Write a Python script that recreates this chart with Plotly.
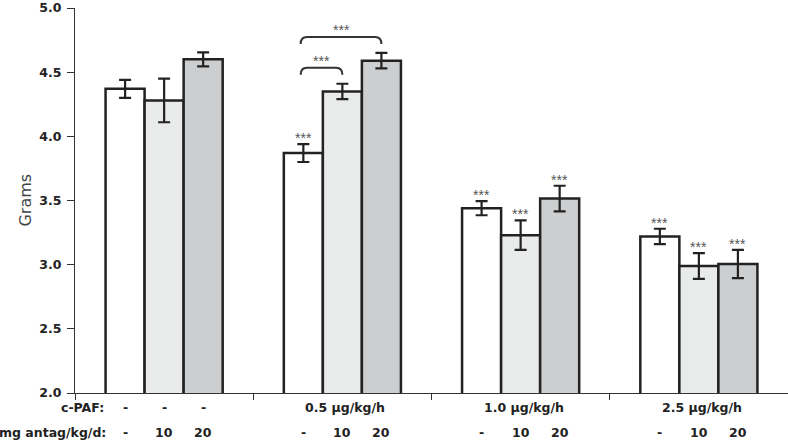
import plotly.graph_objects as go

# ---- data ----
cpaf_labels = ["-", "0.5 µg/kg/h", "1.0 µg/kg/h", "2.5 µg/kg/h"]
antag_labels = ["-", "10", "20"]

vals_0 = [4.37, 3.87, 3.44, 3.22]
err_0 = [0.07, 0.07, 0.055, 0.06]
vals_10 = [4.28, 4.35, 3.23, 2.99]
err_10 = [0.17, 0.06, 0.115, 0.10]
vals_20 = [4.60, 4.59, 3.515, 3.005]
err_20 = [0.055, 0.06, 0.10, 0.11]

sig_0 = [False, True, True, True]
sig_10 = [False, False, True, True]
sig_20 = [False, False, True, True]

# brackets: (group index, bar a, bar b)
brackets = [(1, 0, 1), (1, 0, 2)]

y_ticks = [2.0, 2.5, 3.0, 3.5, 4.0, 4.5, 5.0]

colors = ["#ffffff", "#e9eaea", "#cdcecf"]
series_vals = [vals_0, vals_10, vals_20]
series_err = [err_0, err_10, err_20]
series_sig = [sig_0, sig_10, sig_20]

bw = 0.219
offsets = [-bw, 0.0, bw]
groups = list(range(len(cpaf_labels)))
INK = "#222222"
FONT = "DejaVu Sans, Verdana, sans-serif"
STAR_FONT = dict(family="Liberation Sans, Arial, sans-serif", size=14, color="#555555")

fig = go.Figure()
for k in range(3):
    fig.add_trace(go.Bar(
        x=[g + offsets[k] for g in groups],
        y=series_vals[k],
        base=0,
        width=bw,
        marker=dict(color=colors[k], line=dict(color=INK, width=2.5)),
        error_y=dict(type="data", array=series_err[k], visible=True,
                     color=INK, thickness=2.2, width=6),
        showlegend=False,
        hoverinfo="skip",
    ))

annotations = []
shapes = []

# significance stars above bars
for k in range(3):
    for g in groups:
        if series_sig[k][g]:
            top = series_vals[k][g] + series_err[k][g]
            annotations.append(dict(
                x=g + offsets[k], y=top, xref="x", yref="y",
                text="***", showarrow=False, yanchor="middle", yshift=6,
                font=STAR_FONT))

# brackets
for (g, a, b) in brackets:
    tops = [series_vals[k][g] + series_err[k][g] for k in range(min(a, b), max(a, b) + 1)]
    ytop = max(tops) + 0.125
    yend = ytop - 0.055
    x0 = g + offsets[a] - 0.015
    x1 = g + offsets[b]
    dx = 0.035
    path = (f"M {x0},{yend} Q {x0},{ytop} {x0 + dx},{ytop} "
            f"L {x1 - dx},{ytop} Q {x1},{ytop} {x1},{yend}")
    shapes.append(dict(type="path", path=path, xref="x", yref="y",
                       line=dict(color="#333333", width=2)))
    annotations.append(dict(
        x=(x0 + x1) / 2, y=ytop, xref="x", yref="y", text="***",
        showarrow=False, yanchor="middle", yshift=7,
        font=STAR_FONT))

# bottom labels
lab_font = dict(family=FONT, size=12.5, color=INK)
annotations.append(dict(x=-0.332, y=0, xref="x", yref="paper", text="<b>c-PAF:</b>",
                        showarrow=False, xanchor="right", yanchor="middle", yshift=-14,
                        xshift=1, font=lab_font))
annotations.append(dict(x=-0.332, y=0, xref="x", yref="paper", text="<b>mg antag/kg/d:</b>",
                        showarrow=False, xanchor="right", yanchor="middle", yshift=-39,
                        xshift=3, font=lab_font))
for g in groups:
    if g == 0:
        for k in range(3):
            annotations.append(dict(x=g + offsets[k], y=0, xref="x", yref="paper",
                                    text="<b>-</b>", showarrow=False, yanchor="middle",
                                    yshift=-14, font=lab_font))
    else:
        annotations.append(dict(x=g, y=0, xref="x", yref="paper",
                                text=f"<b>{cpaf_labels[g]}</b>", showarrow=False,
                                yanchor="middle", yshift=-14, xshift=3, font=lab_font))
    for k in range(3):
        annotations.append(dict(x=g + offsets[k], y=0, xref="x", yref="paper",
                                text=f"<b>{antag_labels[k]}</b>", showarrow=False,
                                yanchor="middle", yshift=-39, font=lab_font))

# y title
annotations.append(dict(x=-0.07, y=0.5, xref="paper", yref="paper", text="Grams",
                        textangle=-90, showarrow=False, xanchor="center", yanchor="middle",
                        font=dict(family=FONT, size=16, color="#444444")))

fig.update_layout(
    width=788, height=444,
    margin=dict(l=75, r=0, t=8, b=51),
    paper_bgcolor="white", plot_bgcolor="white",
    barmode="overlay",
    shapes=shapes, annotations=annotations,
    xaxis=dict(range=[-0.5, 3.5], tickvals=[-0.5, 0.5, 1.5, 2.5, 3.5],
               showticklabels=False, ticks="outside", ticklen=6,
               tickcolor="#333333", tickwidth=1.2,
               showline=True, linecolor="#333333", linewidth=1.2,
               showgrid=False, zeroline=False, fixedrange=True),
    yaxis=dict(range=[2, 5.0001], tickvals=y_ticks,
               ticktext=[f"<b>{v:.1f}</b>" for v in y_ticks],
               ticks="outside", ticklen=7, tickcolor="#333333", tickwidth=1.2,
               ticklabelstandoff=3, ticklabeloverflow="allow",
               tickfont=dict(family=FONT, size=12.5, color=INK),
               showline=True, linecolor="#333333", linewidth=1.2,
               showgrid=False, zeroline=False, fixedrange=True),
)

fig.write_html("out.html", config={"displayModeBar": False},
               post_script="document.body.style.margin='0';document.body.style.padding='0';")
